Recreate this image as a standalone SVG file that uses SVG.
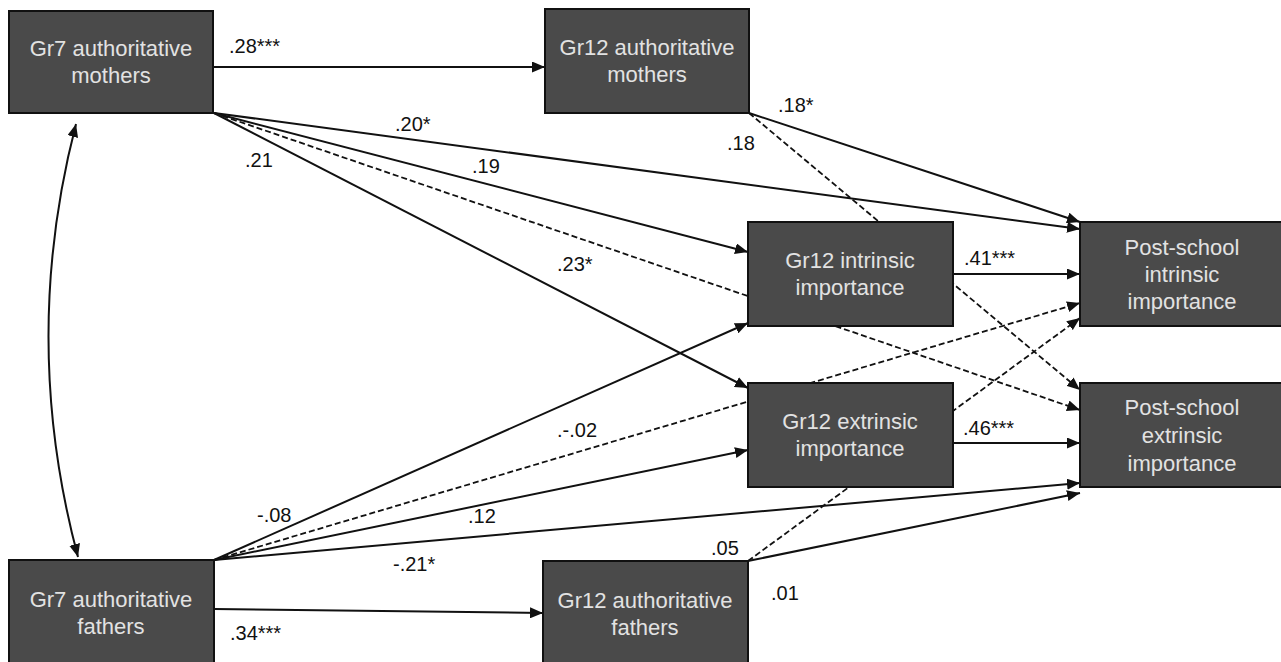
<svg xmlns="http://www.w3.org/2000/svg" width="1281" height="662" viewBox="0 0 1281 662">
<style>
.box{fill:#4a4a4a;stroke:#111;stroke-width:2}
.bt{font-family:"Liberation Sans",Arial,sans-serif;font-size:22px;fill:#e2e2e2;text-anchor:middle}
.lb{font-family:"Liberation Sans",Arial,sans-serif;font-size:20px;fill:#111}
.s{fill:none;stroke:#111;stroke-width:2}
.d{fill:none;stroke:#111;stroke-width:1.8;stroke-dasharray:6 3}
</style>
<defs>
<marker id="ah" markerUnits="userSpaceOnUse" markerWidth="13" markerHeight="11" refX="13" refY="5.5" orient="auto-start-reverse">
<path d="M0,0 L13,5.5 L0,11 z" fill="#111"/>
</marker>
</defs>
<rect width="1281" height="662" fill="#fff"/>
<g id="connectors">
<path class="s" d="M214,67 L545,67" marker-end="url(#ah)"/>
<path class="s" d="M214,113 L1080,229" marker-end="url(#ah)"/>
<path class="s" d="M214,113 L748,252" marker-end="url(#ah)"/>
<path class="d" d="M214,113 L1080,410" marker-end="url(#ah)"/>
<path class="s" d="M214,113 L748,388" marker-end="url(#ah)"/>
<path class="s" d="M749,113 L1080,222" marker-end="url(#ah)"/>
<path class="d" d="M749,113 L1080,390" marker-end="url(#ah)"/>
<path class="s" d="M953,274 L1080,274" marker-end="url(#ah)"/>
<path class="s" d="M953,443 L1080,443" marker-end="url(#ah)"/>
<path class="s" d="M214,609 L543,613" marker-end="url(#ah)"/>
<path class="s" d="M214,560 L748,323" marker-end="url(#ah)"/>
<path class="d" d="M214,560 L1080,303" marker-end="url(#ah)"/>
<path class="s" d="M214,560 L748,450" marker-end="url(#ah)"/>
<path class="s" d="M214,560 L1080,483" marker-end="url(#ah)"/>
<path class="d" d="M748,561 L1080,318" marker-end="url(#ah)"/>
<path class="s" d="M748,561 L1080,493" marker-end="url(#ah)"/>
<path class="s" d="M76,124 Q20,340 78,557" marker-start="url(#ah)" marker-end="url(#ah)"/>
</g>
<g id="labels">
<text class="lb" x="229" y="53">.28***</text>
<text class="lb" x="395" y="131">.20*</text>
<text class="lb" x="245" y="167">.21</text>
<text class="lb" x="472" y="173">.19</text>
<text class="lb" x="557" y="271">.23*</text>
<text class="lb" x="727" y="150">.18</text>
<text class="lb" x="778" y="112">.18*</text>
<text class="lb" x="964" y="265">.41***</text>
<text class="lb" x="963" y="435">.46***</text>
<text class="lb" x="557" y="437">.-.02</text>
<text class="lb" x="257" y="522">-.08</text>
<text class="lb" x="468" y="523">.12</text>
<text class="lb" x="393" y="571">-.21*</text>
<text class="lb" x="230" y="640">.34***</text>
<text class="lb" x="711" y="555">.05</text>
<text class="lb" x="771" y="600">.01</text>
</g>
<g id="gr7-mothers">
<rect class="box" x="9" y="11" width="204" height="102"/>
<text class="bt" x="111" y="56">Gr7 authoritative</text>
<text class="bt" x="111" y="83">mothers</text>
</g>
<g id="gr12-mothers">
<rect class="box" x="545" y="9" width="204" height="104"/>
<text class="bt" x="647" y="55">Gr12 authoritative</text>
<text class="bt" x="647" y="82">mothers</text>
</g>
<g id="gr12-intrinsic">
<rect class="box" x="748" y="222" width="205" height="104"/>
<text class="bt" x="850" y="268">Gr12 intrinsic</text>
<text class="bt" x="850" y="295">importance</text>
</g>
<g id="gr12-extrinsic">
<rect class="box" x="748" y="383" width="205" height="104"/>
<text class="bt" x="850" y="429">Gr12 extrinsic</text>
<text class="bt" x="850" y="456">importance</text>
</g>
<g id="post-intrinsic">
<rect class="box" x="1080" y="222" width="205" height="104"/>
<text class="bt" x="1182" y="255">Post-school</text>
<text class="bt" x="1182" y="282">intrinsic</text>
<text class="bt" x="1182" y="309">importance</text>
</g>
<g id="post-extrinsic">
<rect class="box" x="1080" y="383" width="205" height="104"/>
<text class="bt" x="1182" y="415">Post-school</text>
<text class="bt" x="1182" y="443">extrinsic</text>
<text class="bt" x="1182" y="471">importance</text>
</g>
<g id="gr7-fathers">
<rect class="box" x="9" y="560" width="205" height="106"/>
<text class="bt" x="111" y="607">Gr7 authoritative</text>
<text class="bt" x="111" y="634">fathers</text>
</g>
<g id="gr12-fathers">
<rect class="box" x="543" y="561" width="205" height="106"/>
<text class="bt" x="645" y="608">Gr12 authoritative</text>
<text class="bt" x="645" y="635">fathers</text>
</g>
</svg>
